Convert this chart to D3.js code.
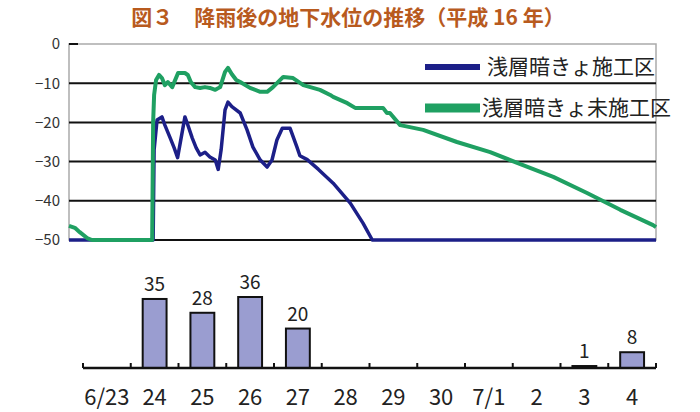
<!DOCTYPE html>
<html>
<head>
<meta charset="utf-8">
<script src="https://cdn.jsdelivr.net/npm/d3@7"></script>
<style>
body { margin: 0; background: #fff; }
text { font-family: "Noto Sans CJK JP", "Noto Sans", sans-serif; }
</style>
</head>
<body>
<div id="chart"></div>
<script>
// day labels for the rainfall bars (6/23 .. 7/4)
var dayLabels = ["6/23", "24", "25", "26", "27", "28", "29", "30", "7/1", "2", "3", "4"];
var rainfall = [0, 35, 28, 36, 20, 0, 0, 0, 0, 0, 1, 8];

// groundwater level (cm), time in days from 6/23 0:00
var drainTime = [0, 1.72, 1.74, 1.80, 1.90, 1.96, 2.07, 2.15, 2.22, 2.37, 2.43, 2.52, 2.60, 2.68, 2.78, 2.88, 2.99, 3.05,
    3.11, 3.19, 3.25, 3.33, 3.50, 3.64, 3.76, 3.91, 4.05, 4.15, 4.25, 4.36, 4.52, 4.66, 4.72, 4.87, 5.10, 5.40, 5.75, 6.01, 6.20, 12];
var drainLevel = [-50, -50, -27.0, -19.4, -18.6, -20.7, -24.0, -26.5, -29.0, -18.6, -20.7, -24.0, -26.5, -28.3, -27.6, -28.8, -29.6, -32.0,
    -27.0, -16.8, -14.8, -16.0, -17.6, -21.9, -26.3, -29.6, -31.4, -29.6, -24.5, -21.5, -21.5, -26.3, -28.5, -29.5, -32.0, -35.5, -40.6, -45.7, -50, -50];

var noDrainTime = [0, 0.12, 0.22, 0.37, 0.47, 1.70, 1.72, 1.74, 1.78, 1.84, 1.90, 1.96, 2.02, 2.11, 2.23, 2.37, 2.43, 2.49, 2.58, 2.68,
    2.78, 2.88, 2.99, 3.09, 3.19, 3.25, 3.33, 3.42, 3.50, 3.70, 3.91, 4.05, 4.17, 4.38, 4.58, 4.79, 5.13, 5.34, 5.40, 5.69, 5.85,
    6.42, 6.50, 6.56, 6.77, 7.24, 7.93, 8.61, 9.28, 9.90, 10.59, 11.27, 11.94, 12.0];
var noDrainLevel = [-46.4, -46.9, -48.0, -49.5, -50, -50, -20, -13.0, -9.2, -7.9, -8.7, -10.5, -9.7, -11.0, -7.4, -7.4, -7.9, -9.7, -11.0, -11.2,
    -11.0, -11.2, -11.7, -11.0, -7.1, -6.1, -7.7, -9.2, -9.7, -11.2, -12.2, -12.2, -11.0, -8.4, -8.7, -10.5, -11.7, -13.0, -13.5, -15.1, -16.3,
    -16.3, -17.6, -17.6, -20.7, -21.9, -25.0, -27.6, -30.9, -33.9, -38.0, -42.3, -46.2, -46.7];

var levelTicks = [0, -10, -20, -30, -40, -50];
var seriesNames = ["浅層暗きょ施工区", "浅層暗きょ未施工区"];

var width = 700, height = 412;
var plot = {x1: 69, x2: 656, y1: 44, y2: 240};
var bars = {x1: 83, x2: 656, base: 368};

var svg = d3.select("#chart").append("svg").attr("width", width).attr("height", height);

// title
svg.append("text").attr("x", 348).attr("y", 25).attr("text-anchor", "middle")
    .attr("font-size", 21).attr("font-weight", "bold").attr("fill", "#b85a1e")
    .text("図３　降雨後の地下水位の推移（平成 16 年）");

var x = d3.scaleLinear().domain([0, 12]).range([plot.x1, plot.x2]);
var y = d3.scaleLinear().domain([-50, 0]).range([plot.y2, plot.y1]);

// frame + grid
svg.append("rect").attr("x", plot.x1).attr("y", plot.y1).attr("width", plot.x2 - plot.x1).attr("height", plot.y2 - plot.y1)
    .attr("fill", "none").attr("stroke", "#aaa").attr("stroke-width", 1.5);
svg.append("g").selectAll("line").data(levelTicks.filter(function(d) { return d < 0; })).join("line")
    .attr("x1", plot.x1).attr("x2", plot.x2).attr("y1", function(d) { return y(d); }).attr("y2", function(d) { return y(d); })
    .attr("stroke", "#111").attr("stroke-width", 2);
svg.append("line").attr("x1", plot.x1).attr("x2", plot.x1 + 9).attr("y1", y(0)).attr("y2", y(0))
    .attr("stroke", "#111").attr("stroke-width", 2);

var yAxis = svg.append("g").attr("transform", "translate(" + plot.x1 + ",0)")
    .call(d3.axisLeft(y).tickValues(levelTicks).tickSize(0).tickPadding(9));
yAxis.select(".domain").remove();
yAxis.selectAll("text").attr("font-size", 15).attr("fill", "#333")
    .attr("font-family", "\"Noto Sans CJK JP\", sans-serif");

var line = d3.line().x(function(d) { return x(d[0]); }).y(function(d) { return y(d[1]); });

svg.append("path").datum(d3.zip(drainTime, drainLevel)).attr("d", line)
    .attr("fill", "none").attr("stroke", "#1c1f88").attr("stroke-width", 3.5).attr("stroke-linejoin", "round");
svg.append("path").datum(d3.zip(noDrainTime, noDrainLevel)).attr("d", line)
    .attr("fill", "none").attr("stroke", "#1fa062").attr("stroke-width", 4).attr("stroke-linejoin", "round");

// legend
var legend = svg.append("g");
legend.append("line").attr("x1", 425).attr("x2", 480).attr("y1", 67).attr("y2", 67)
    .attr("stroke", "#1c1f88").attr("stroke-width", 6);
legend.append("text").attr("x", 487).attr("y", 74).attr("font-size", 21).attr("fill", "#222").text(seriesNames[0]);
legend.append("line").attr("x1", 425).attr("x2", 480).attr("y1", 108).attr("y2", 108)
    .attr("stroke", "#1fa062").attr("stroke-width", 9);
legend.append("text").attr("x", 482).attr("y", 115).attr("font-size", 21).attr("fill", "#222").text(seriesNames[1]);

// rainfall bars
var xb = d3.scaleBand().domain(dayLabels).range([bars.x1, bars.x2]).paddingInner(0.5).paddingOuter(0.25);
var yb = d3.scaleLinear().domain([0, 36]).range([bars.base, bars.base - 71]);
var rainData = d3.zip(dayLabels, rainfall);

svg.append("g").selectAll("rect").data(rainData.filter(function(d) { return d[1] > 0; })).join("rect")
    .attr("x", function(d) { return xb(d[0]); }).attr("width", xb.bandwidth())
    .attr("y", function(d) { return yb(d[1]); }).attr("height", function(d) { return yb(0) - yb(d[1]); })
    .attr("fill", "#9a9dd0").attr("stroke", "#111").attr("stroke-width", 2);

svg.append("g").selectAll("text").data(rainData.filter(function(d) { return d[1] > 0; })).join("text")
    .attr("x", function(d) { return xb(d[0]) + xb.bandwidth() / 2; }).attr("y", function(d) { return yb(d[1]) - 8; })
    .attr("text-anchor", "middle").attr("font-size", 19).attr("fill", "#222")
    .text(function(d) { return d[1]; });

// bar axis
var step = xb.step();
var axisG = svg.append("g");
axisG.append("line").attr("x1", bars.x1).attr("x2", bars.x2).attr("y1", bars.base).attr("y2", bars.base)
    .attr("stroke", "#111").attr("stroke-width", 2.5);
axisG.selectAll("line.tick").data(d3.range(dayLabels.length + 1)).join("line").attr("class", "tick")
    .attr("x1", function(i) { return bars.x1 + i * step; }).attr("x2", function(i) { return bars.x1 + i * step; })
    .attr("y1", bars.base).attr("y2", bars.base - 5).attr("stroke", "#111").attr("stroke-width", 2);
axisG.selectAll("text").data(dayLabels).join("text")
    .attr("x", function(d) { return xb(d) + xb.bandwidth() / 2; }).attr("y", 405)
    .attr("text-anchor", "middle").attr("font-size", 22).attr("fill", "#222")
    .text(function(d) { return d; });
</script>
</body>
</html>
